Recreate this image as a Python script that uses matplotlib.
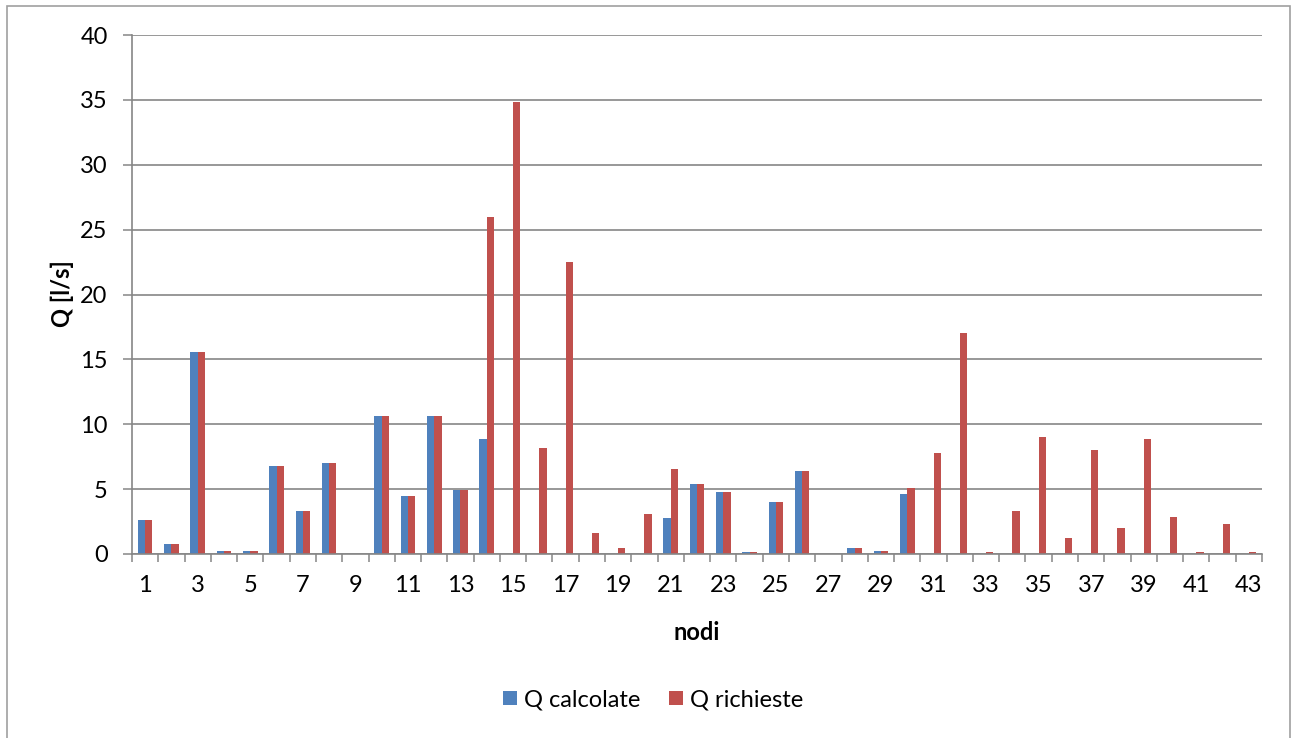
import matplotlib
matplotlib.use("Agg")
import matplotlib.pyplot as plt
import matplotlib.patches as patches
import numpy as np

# data
nodi = list(range(1, 44))
q_calcolate = [2.6, 0.8, 15.6, 0.2, 0.2, 6.8, 3.3, 7.0, 0.0, 10.6,
               4.5, 10.6, 4.9, 8.9, 0.0, 0.0, 0.0, 0.0, 0.0, 0.0,
               2.8, 5.4, 4.8, 0.15, 4.0, 6.4, 0.0, 0.5, 0.25, 4.6,
               0.0, 0.0, 0.0, 0.0, 0.0, 0.0, 0.0, 0.0, 0.0, 0.0,
               0.0, 0.0, 0.0]
q_richieste = [2.6, 0.8, 15.6, 0.2, 0.2, 6.8, 3.3, 7.0, 0.0, 10.6,
               4.5, 10.6, 4.9, 26.0, 34.8, 8.2, 22.5, 1.6, 0.5, 3.1,
               6.55, 5.4, 4.8, 0.15, 4.0, 6.4, 0.0, 0.5, 0.25, 5.1,
               7.8, 17.0, 0.15, 3.3, 9.0, 1.2, 8.0, 2.0, 8.85, 2.85,
               0.15, 2.3, 0.15]
x_labels = [str(n) if n % 2 == 1 else "" for n in nodi]

blue = "#4F81BD"
red = "#C0504D"
grey = "#868686"
fs = 17

plt.rcParams['font.family'] = ['Lato', 'DejaVu Sans']

fig = plt.figure(figsize=(12.91, 7.38), dpi=100)
ax = fig.add_axes([132/1291, 1 - 554/738, (1262 - 132)/1291, (554 - 35)/738])

x = np.arange(1, len(nodi) + 1)
w = 0.278
ax.bar(x - w/2, q_calcolate, width=w, color=blue, zorder=3, label="Q calcolate")
ax.bar(x + w/2, q_richieste, width=w, color=red, zorder=3, label="Q richieste")

ax.set_xlim(0.5, len(nodi) + 0.5)
ax.set_ylim(0, 40)
ax.set_yticks(range(0, 41, 5))
ax.tick_params(axis='y', labelsize=fs, length=6.5, width=1.1, color=grey, pad=11)

ax.set_xticks(x)
ax.set_xticklabels(x_labels)
ax.set_xticks(np.arange(0.5, len(nodi) + 1), minor=True)
ax.tick_params(axis='x', which='major', length=0, labelsize=fs, pad=15)
ax.tick_params(axis='x', which='minor', length=6, width=1.1, color=grey)

ax.grid(axis='y', color=grey, linewidth=1.2, zorder=0)
for s in ['top', 'right']:
    ax.spines[s].set_visible(False)
for s in ['left', 'bottom']:
    ax.spines[s].set_color(grey)
    ax.spines[s].set_linewidth(1.2)
ax.spines['bottom'].set_zorder(4)

fig.text(62/1291, 1 - 294/738, "Q [l/s]", rotation=90, ha='center', va='center',
         fontsize=fs, fontweight='bold')
fig.text(697/1291, 1 - 632/738, "nodi", ha='center', va='center',
         fontsize=fs, fontweight='bold')

ax.legend(loc='center', bbox_to_anchor=(653/1291, 1 - 700/738),
          bbox_transform=fig.transFigure, ncol=2, frameon=False,
          fontsize=fs, handlelength=0.6, handleheight=0.55,
          handletextpad=0.3, columnspacing=1.2)

# chart border
fig.patches.append(patches.Rectangle((6.5/1291, -0.02), (1290 - 6.5)/1291, 1.02 - 6/738,
                                     transform=fig.transFigure, fill=False,
                                     edgecolor="#A0A0A0", linewidth=1.2))

fig.savefig("out.png", dpi=100)
